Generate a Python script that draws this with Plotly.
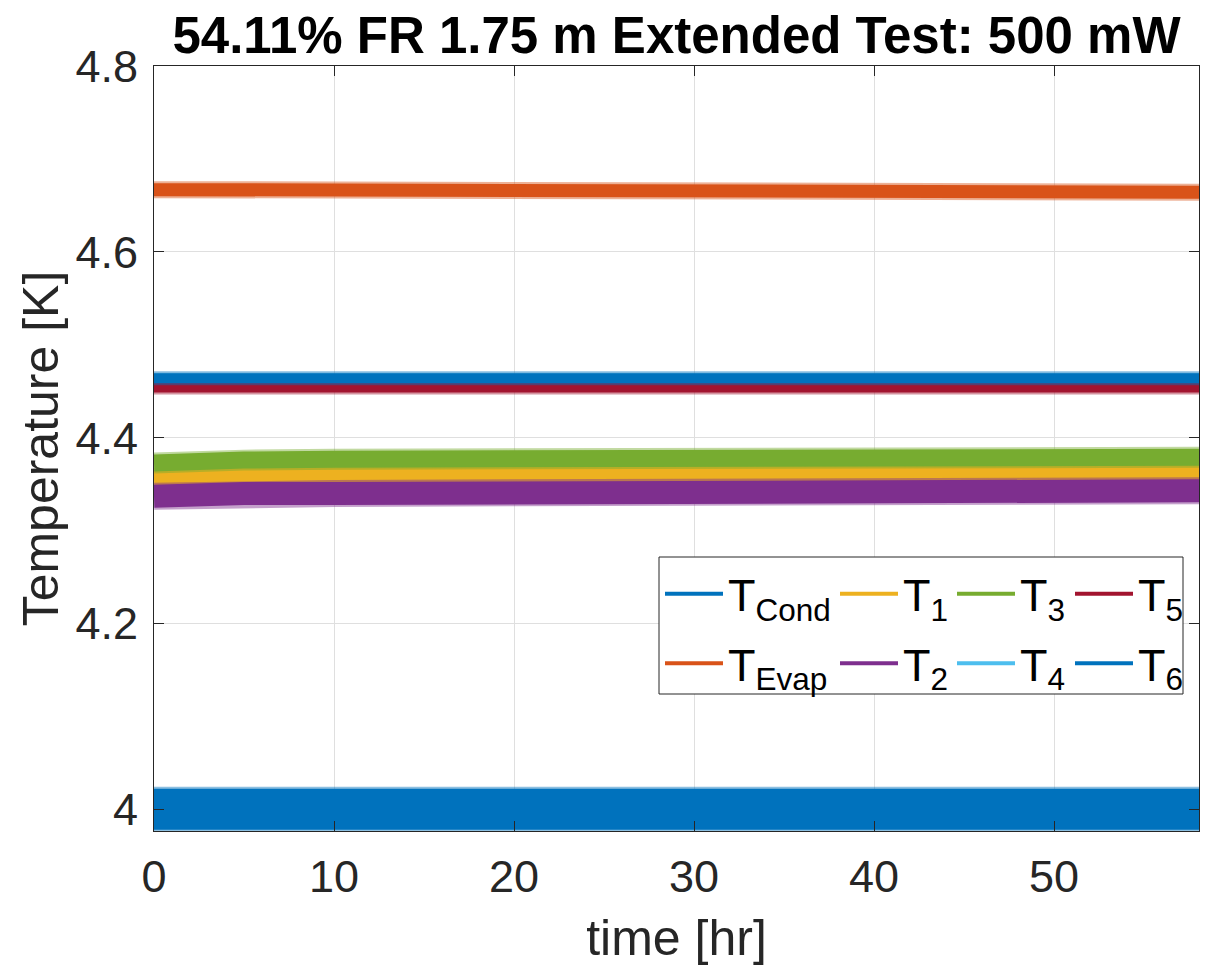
import plotly.graph_objects as go

# ---- data ----
time_hr = [0, 2, 5, 10, 20, 30, 40, 50, 58.05]
T_cond = [4.0005, 4.0005, 4.0005, 4.0005, 4.0005, 4.0005, 4.0005, 4.0005, 4.0005]
T_evap = [4.667, 4.667, 4.6665, 4.666, 4.6655, 4.665, 4.6648, 4.6645, 4.6643]
T_1 = [4.355, 4.358, 4.360, 4.360, 4.361, 4.362, 4.363, 4.363, 4.363]
T_2 = [4.337, 4.339, 4.340, 4.340, 4.341, 4.342, 4.342, 4.343, 4.343]
T_3 = [4.373, 4.375, 4.376, 4.377, 4.378, 4.378, 4.379, 4.379, 4.379]
T_4 = [4.464, 4.464, 4.464, 4.464, 4.464, 4.464, 4.464, 4.464, 4.464]
T_5 = [4.454, 4.454, 4.454, 4.454, 4.454, 4.454, 4.454, 4.454, 4.454]
T_6 = [4.464, 4.464, 4.464, 4.464, 4.464, 4.464, 4.464, 4.464, 4.464]

names = ["T<sub>Cond</sub>", "T<sub>Evap</sub>", "T<sub>1</sub>", "T<sub>2</sub>",
         "T<sub>3</sub>", "T<sub>4</sub>", "T<sub>5</sub>", "T<sub>6</sub>"]
series = [T_cond, T_evap, T_1, T_2, T_3, T_4, T_5, T_6]

y_tickvals = [4.0, 4.2, 4.4, 4.6, 4.8]
y_ticktext = ["4", "4.2", "4.4", "4.6", "4.8"]
x_tickvals = [0, 10, 20, 30, 40, 50]
x_ticktext = ["0", "10", "20", "30", "40", "50"]

# ---- styles ----
colors = ["#0072BD", "#D95319", "#EDB120", "#7E2F8E", "#77AC30", "#4DBEEE", "#A2142F", "#0072BD"]
band_px = [41, 13, 19, 23, 17, 7, 10, 10]   # visual thickness of the noisy bands
legend_ids = ["legend", "legend", "legend2", "legend2", "legend3", "legend3", "legend4", "legend4"]

FONT = "Liberation Sans, Arial, sans-serif"
AX = "#262626"

fig = go.Figure()
for name, vals, c, w in zip(names, series, colors, band_px):
    # soft fringe imitating the noise at the band edges
    fig.add_trace(go.Scatter(x=time_hr, y=vals, mode="lines", opacity=0.45,
                             line=dict(color=c, width=w + 4),
                             showlegend=False, hoverinfo="skip"))
    fig.add_trace(go.Scatter(x=time_hr, y=vals, mode="lines",
                             line=dict(color=c, width=w),
                             showlegend=False, hoverinfo="skip"))

# legend-only entries (one legend per column, as in the reference)
for name, c, lg in zip(names, colors, legend_ids):
    fig.add_trace(go.Scatter(x=[None], y=[None], mode="lines", name=name,
                             line=dict(color=c, width=4), legend=lg,
                             legendgroup=name, showlegend=True))

# page body has an 8px margin: the figure is drawn at (8, 8) on screen
OX, OY = 8, 8
W, H = 1209 - OX, 966 - OY
L = 154 - OX
T = 66 - OY
R = W - (1199 - OX)
B = H - (831 - OY)
pw, ph = W - L - R, H - T - B


def px2x(px):
    return (px - OX - L) / pw


def py2y(py):
    return (H - B - (py - OY)) / ph


leg_common = dict(xanchor="left", yanchor="top", bgcolor="rgba(0,0,0,0)",
                  borderwidth=0, font=dict(family=FONT, size=45, color="#000000"),
                  itemwidth=58, tracegroupgap=8, traceorder="grouped",
                  orientation="v")
leg_top = py2y(558)

fig.update_layout(
    width=W, height=H,
    margin=dict(l=L, r=R, t=T, b=B, autoexpand=False),
    paper_bgcolor="white", plot_bgcolor="white",
    title=dict(text="<b>54.11% FR 1.75 m Extended Test: 500 mW</b>",
               x=0.5, xref="paper", xanchor="center",
               y=1 - (35 - OY) / H, yref="container", yanchor="middle",
               font=dict(family=FONT, size=51, color="#000000")),
    xaxis=dict(range=[0, 58.05], tickvals=x_tickvals, ticktext=x_ticktext,
               showgrid=True, gridcolor="#DFDFDF", gridwidth=1, zeroline=False,
               showline=True, linecolor=AX, linewidth=1, mirror="ticks",
               ticks="inside", ticklen=10, tickcolor=AX, tickwidth=1,
               tickfont=dict(family=FONT, size=45, color=AX),
               ticklabelstandoff=6,
               title=dict(text="time [hr]", standoff=18,
                          font=dict(family=FONT, size=50, color=AX))),
    yaxis=dict(range=[3.977, 4.8], tickvals=y_tickvals, ticktext=y_ticktext,
               showgrid=True, gridcolor="#DFDFDF", gridwidth=1, zeroline=False,
               showline=True, linecolor=AX, linewidth=1, mirror="ticks",
               ticks="inside", ticklen=10, tickcolor=AX, tickwidth=1,
               tickfont=dict(family=FONT, size=45, color=AX),
               ticklabelstandoff=6,
               title=dict(text="Temperature [K]", standoff=0,
                          font=dict(family=FONT, size=50, color=AX))),
    legend=dict(x=px2x(660), y=leg_top, **leg_common),
    legend2=dict(x=px2x(835), y=leg_top, **leg_common),
    legend3=dict(x=px2x(952), y=leg_top, **leg_common),
    legend4=dict(x=px2x(1070), y=leg_top, **leg_common),
    shapes=[dict(type="rect", xref="paper", yref="paper",
                 x0=px2x(659), x1=px2x(1183), y0=py2y(694), y1=py2y(557),
                 line=dict(color=AX, width=1), fillcolor="white", layer="above")],
)

fig.write_html("out.html")
